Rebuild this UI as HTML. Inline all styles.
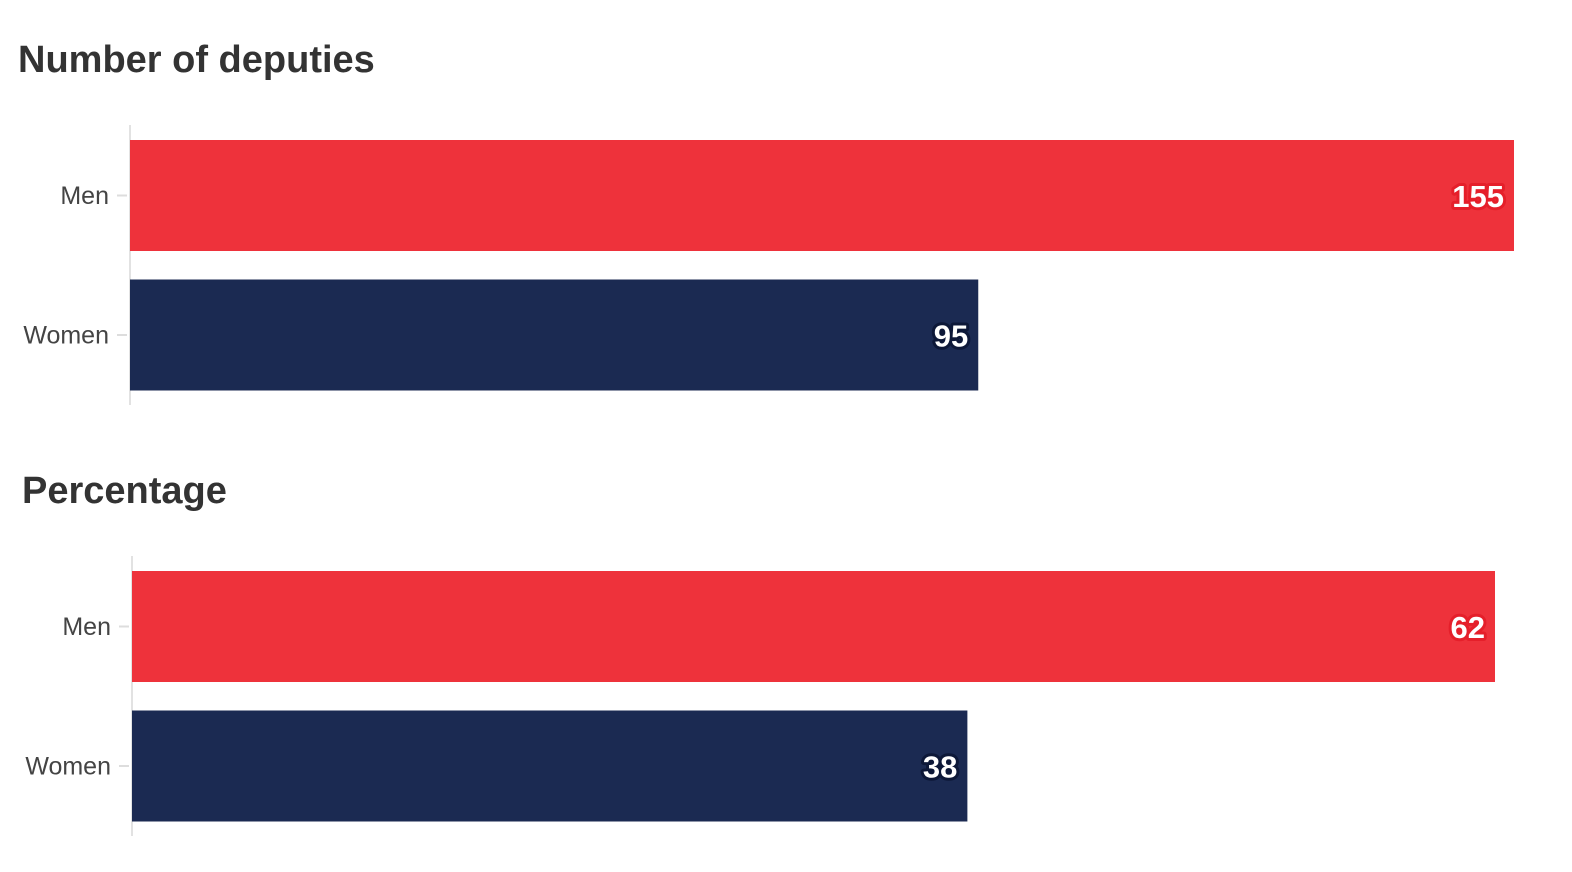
<!DOCTYPE html>
<html><head><meta charset="utf-8"><style>
html,body{margin:0;padding:0;background:#fff;width:1572px;height:872px;overflow:hidden}
svg{display:block}
</style></head><body>
<svg id="c" width="1572" height="872" font-family="Liberation Sans, sans-serif"></svg>
<script>
const categories = ["Men", "Women"];
const countValues = [155, 95];
const pctValues = [62, 38];
const titles = ["Number of deputies", "Percentage"];
const colors = ["#ee323b", "#1b2a52"];
const strokes = ["#e51f2a", "#0d1838"];
const NS = "http://www.w3.org/2000/svg";
const svg = document.getElementById('c');
function mk(tag, attrs, parent) {
  const e = document.createElementNS(NS, tag);
  for (const k in attrs) e.setAttribute(k, attrs[k]);
  (parent || svg).appendChild(e);
  return e;
}
function panel(idx, values, x0, y0, pxPerUnit) {
  const g = mk('g', {});
  
  
  const t = mk('text', {x: x0 - 110 + (idx ? 0 : -2), y: y0 - 68, 'font-size': 38, 'font-weight': 'bold', fill: '#333'}, g);
  t.textContent = titles[idx];
  
  
  const ax = mk('line', {x1: x0, x2: x0, y1: y0 - 15, y2: y0 + 265, stroke: '#e2e2e2', 'stroke-width': 2}, g);
  
  
  const xScale = v => v * pxPerUnit;
  categories.forEach((c, i) => {
    const by = y0 + i * 139.5;
    const w = xScale(values[i]);
    const r = mk('rect', {x: x0, y: by, width: w, height: 111, fill: colors[i]}, g);
    
    
    const tk = mk('line', {x1: x0 - 13, x2: x0 - 3, y1: by + 55.5, y2: by + 55.5, stroke: '#ddd', 'stroke-width': 2}, g);
    
    
    const lb = mk('text', {x: x0 - 21, y: by + 64, 'font-size': 25, fill: '#444', 'text-anchor': 'end'}, g);
    lb.textContent = c;
    
    
    const vl = mk('text', {x: x0 + w - 10, y: by + 67, 'font-size': 31, 'font-weight': 'bold', fill: '#fff', 'text-anchor': 'end', stroke: strokes[i], 'stroke-width': 6, 'paint-order': 'stroke', 'stroke-linejoin': 'round'}, g);
    vl.textContent = values[i];
    
    
  });
}
panel(0, countValues, 130, 140, 1384 / 155);
panel(1, pctValues, 132, 571, 1363 / 62);
</script>
</body></html>
